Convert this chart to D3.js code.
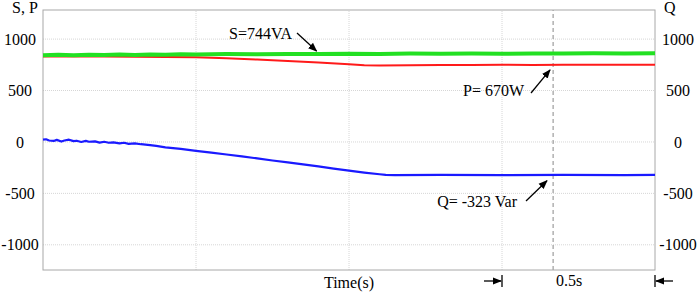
<!DOCTYPE html>
<html>
<head>
<meta charset="utf-8">
<script src="https://cdn.jsdelivr.net/npm/d3@7"></script>
<style>
  body { margin: 0; background: #fff; }
</style>
</head>
<body>
<div id="chart"></div>
<script>
// Power flow after the step: apparent (S), active (P) and reactive (Q) power.
const yTicks = [1000, 500, 0, -500, -1000];
const xGrid = [0.5, 1.0, 1.5];
const markerTime = 1.667;

const sTime = [0, 0.05, 0.1, 0.15, 0.2, 0.25, 0.3, 0.35, 0.4, 0.45, 0.5, 0.6, 0.7, 0.8, 0.9, 1.0, 1.1, 1.2, 1.3, 1.4, 1.5, 1.6, 1.7, 1.8, 1.9, 2.0];
const sValues = [842, 848, 843, 849, 845, 850, 846, 851, 848, 853, 850, 854, 852, 856, 854, 858, 855, 859, 857, 860, 858, 861, 859, 862, 860, 862];

const pTime = [0, 0.1, 0.2, 0.3, 0.4, 0.5, 0.6, 0.7, 0.8, 0.9, 1.0, 1.05, 1.1, 1.2, 1.3, 1.4, 1.5, 1.6, 1.7, 1.8, 1.9, 2.0];
const pValues = [832, 831, 830, 829, 827, 823, 813, 801, 788, 773, 756, 745, 744, 746, 749, 748, 750, 749, 751, 750, 751, 750];

const qTime = [0, 0.01, 0.02, 0.035, 0.045, 0.06, 0.07, 0.085, 0.1, 0.11, 0.125, 0.14, 0.15, 0.17, 0.185,
  0.2, 0.215, 0.23, 0.25, 0.265, 0.28, 0.3, 0.32, 0.335, 0.35, 0.37, 0.4,
  0.45, 0.5, 0.55, 0.6, 0.65, 0.7, 0.75, 0.8, 0.85, 0.9, 0.95, 1.0, 1.05, 1.1, 1.12, 1.15, 1.3, 1.5, 1.7, 1.9, 2.0];
const qValues = [22, 26, 14, 10, 20, 4, 14, 22, 8, 12, 0, 10, 2, 6, -6,
  2, -8, -4, -14, -8, -18, -14, -22, -26, -30, -38, -52,
  -68, -86, -104, -122, -140, -160, -180, -198, -218, -238, -259, -279, -298, -314, -320, -322, -320, -322, -321, -322, -321];

// Annotations: label, arrow tip (time, value), arrow tail and text anchor in pixels.
const notes = [
  { label: 'S=744VA', tipT: 0.894, tipV: 884, tail: [297, 33], text: [229, 39], anchor: 'start' },
  { label: 'P= 670W', tipT: 1.657, tipV: 700, tail: [531, 93], text: [463, 96], anchor: 'start' },
  { label: 'Q= -323 Var', tipT: 1.647, tipV: -377, tail: [526, 201], text: [517, 207], anchor: 'end' }
];

const W = 699, H = 294;
const m = { top: 10, right: 44, bottom: 24, left: 43 };

const svg = d3.select('#chart').append('svg').attr('width', W).attr('height', H);

// Serif labels, as in the original figure.
const label = sel => sel.style('font-family', "'Liberation Serif'").style('font-size', '16px').attr('fill', '#000');

const x = d3.scaleLinear().domain([0, 2]).range([m.left, W - m.right]);
const y = d3.scaleLinear().domain([-1245, 1283]).range([H - m.bottom, m.top]);

const defs = svg.append('defs');
defs.append('marker')
  .attr('id', 'arrow')
  .attr('viewBox', '0 0 10 10')
  .attr('refX', 9).attr('refY', 5)
  .attr('markerWidth', 7).attr('markerHeight', 7)
  .attr('orient', 'auto')
  .append('path').attr('d', 'M0,1 L10,5 L0,9 Z').attr('fill', '#000');

// Grid lines
svg.append('g').selectAll('line').data(yTicks).enter().append('line')
  .attr('x1', x(0)).attr('x2', x(2))
  .attr('y1', d => y(d)).attr('y2', d => y(d))
  .attr('stroke', '#d6d6d6').attr('stroke-dasharray', '1,1');

svg.append('g').selectAll('line').data(xGrid).enter().append('line')
  .attr('x1', d => x(d)).attr('x2', d => x(d))
  .attr('y1', y.range()[0]).attr('y2', y.range()[1])
  .attr('stroke', '#d6d6d6').attr('stroke-dasharray', '1,1');

svg.append('line')
  .attr('x1', x(markerTime)).attr('x2', x(markerTime))
  .attr('y1', y.range()[0]).attr('y2', y.range()[1])
  .attr('stroke', '#888').attr('stroke-dasharray', '4,3');

// Frame
svg.append('rect')
  .attr('x', x(0)).attr('y', m.top)
  .attr('width', x(2) - x(0)).attr('height', H - m.top - m.bottom)
  .attr('fill', 'none').attr('stroke', '#a8a8a8');

// Series
const line = d3.line().x(d => x(d[0])).y(d => y(d[1]));
const series = [
  { t: qTime, v: qValues, color: '#1a1aff', w: 2.2 },
  { t: pTime, v: pValues, color: '#ff1a1a', w: 2 },
  { t: sTime, v: sValues, color: '#22e022', w: 4 }
];
series.forEach(s => {
  svg.append('path')
    .datum(s.t.map((t, i) => [t, s.v[i]]))
    .attr('fill', 'none')
    .attr('stroke', s.color)
    .attr('stroke-width', s.w)
    .attr('stroke-linejoin', 'round')
    .attr('d', line);
});

// Tick labels on both sides
svg.append('g').selectAll('text').data(yTicks).enter().append('text')
  .attr('x', 20).attr('y', d => y(d)).attr('dy', '0.35em')
  .attr('text-anchor', 'middle').call(label).text(d => d);
svg.append('g').selectAll('text').data(yTicks).enter().append('text')
  .attr('x', 678).attr('y', d => y(d)).attr('dy', '0.35em')
  .attr('text-anchor', 'middle').call(label).text(d => d);

svg.append('text').attr('x', 12).attr('y', 13).call(label).text('S, P');
svg.append('text').attr('x', 664).attr('y', 13).call(label).text('Q');
svg.append('text').attr('x', x(1.0)).attr('y', 288).attr('text-anchor', 'middle').call(label).text('Time(s)');
svg.append('text').attr('x', x(markerTime) + 3).attr('y', 286).call(label).text('0.5s');

// Span markers for the 0.5 s window
const spanY = 281;
svg.append('line').attr('x1', x(1.5) - 18).attr('x2', x(1.5) - 1).attr('y1', spanY).attr('y2', spanY)
  .attr('stroke', '#000').attr('stroke-width', 1.3).attr('marker-end', 'url(#arrow)');
svg.append('line').attr('x1', x(1.5)).attr('x2', x(1.5)).attr('y1', spanY - 6).attr('y2', spanY + 6)
  .attr('stroke', '#000').attr('stroke-width', 1.3);
svg.append('line').attr('x1', x(2) + 18).attr('x2', x(2) + 1).attr('y1', spanY).attr('y2', spanY)
  .attr('stroke', '#000').attr('stroke-width', 1.3).attr('marker-end', 'url(#arrow)');
svg.append('line').attr('x1', x(2)).attr('x2', x(2)).attr('y1', spanY - 6).attr('y2', spanY + 6)
  .attr('stroke', '#000').attr('stroke-width', 1.3);

// Annotations
notes.forEach(n => {
  svg.append('line')
    .attr('x1', n.tail[0]).attr('y1', n.tail[1])
    .attr('x2', x(n.tipT)).attr('y2', y(n.tipV))
    .attr('stroke', '#000').attr('stroke-width', 1.3)
    .attr('marker-end', 'url(#arrow)');
  svg.append('text')
    .attr('x', n.text[0]).attr('y', n.text[1])
    .attr('text-anchor', n.anchor).call(label).text(n.label);
});
</script>
</body>
</html>
